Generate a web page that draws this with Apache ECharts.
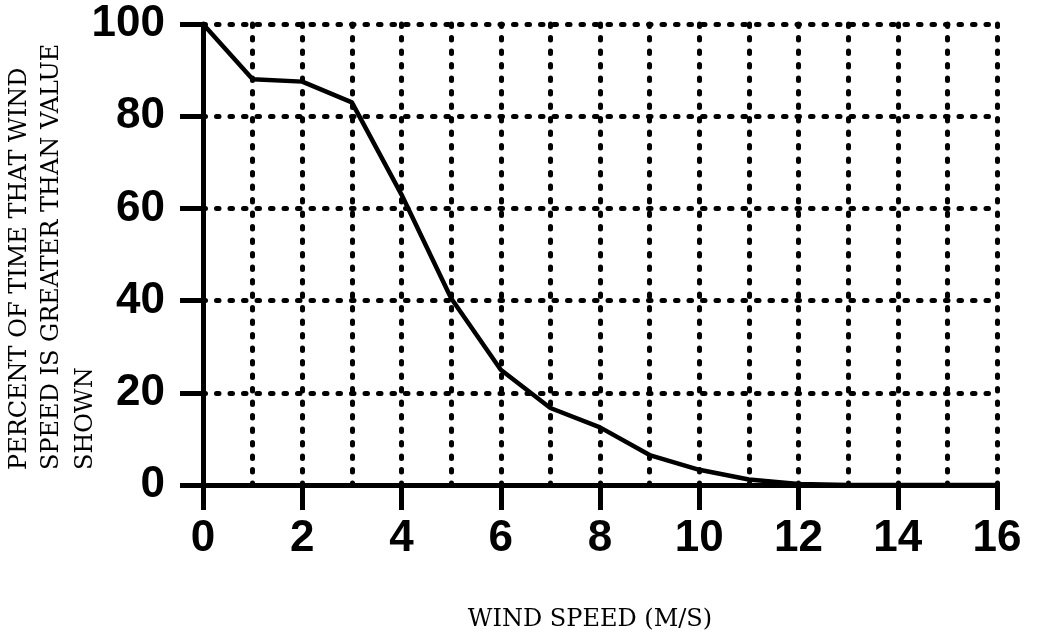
<!DOCTYPE html>
<html>
<head>
<meta charset="utf-8">
<script src="https://cdn.jsdelivr.net/npm/echarts@6/dist/echarts.min.js"></script>
<style>
  html, body { margin: 0; padding: 0; background: #ffffff; }
  #chart { width: 1039px; height: 639px; }
</style>
</head>
<body>
<div id="chart"></div>
<script>
// ---- data ----
const windSpeed = [0, 1, 2, 3, 4, 5, 6, 7, 8, 9, 10, 11, 12, 13, 14, 15, 16];
const percentAbove = [100, 88, 87.5, 83, 63, 40.5, 25, 16.7, 12.5, 6.5, 3.3, 1.2, 0.2, 0, 0, 0, 0];
const xTicks = [0, 2, 4, 6, 8, 10, 12, 14, 16];
const yTicks = [0, 20, 40, 60, 80, 100];
const xTitle = 'WIND SPEED (M/S)';
const yTitleLines = ['PERCENT OF TIME THAT WIND', 'SPEED IS GREATER THAN VALUE', 'SHOWN'];

const seriesData = windSpeed.map((x, i) => [x, percentAbove[i]]);

const dotted = { color: '#000', width: 5, type: [2.5, 11], cap: 'round' };
const tickFont = { fontFamily: 'Liberation Sans', fontWeight: 'bold', fontSize: 44, color: '#000' };
const titleFont = '24px "DejaVu Serif", serif';

const chart = echarts.init(document.getElementById('chart'), null, { renderer: 'canvas' });

const yNameX = [20, 52, 86];

chart.setOption({
  backgroundColor: '#ffffff',
  animation: false,
  grid: { left: 203, right: 42, top: 24, bottom: 154, containLabel: false },
  xAxis: {
    type: 'value',
    min: xTicks[0],
    max: xTicks[xTicks.length - 1],
    interval: 2,
    axisLine: { show: true, lineStyle: { color: '#000', width: 5 } },
    axisTick: { show: true, inside: false, length: 25, lineStyle: { color: '#000', width: 5 } },
    axisLabel: Object.assign({ margin: 32 }, tickFont),
    splitLine: { show: true, showMinLine: false, lineStyle: dotted },
    minorTick: { show: false, splitNumber: 2 },
    minorSplitLine: { show: true, lineStyle: dotted }
  },
  yAxis: {
    type: 'value',
    min: yTicks[0],
    max: yTicks[yTicks.length - 1],
    interval: 20,
    axisLine: { show: true, lineStyle: { color: '#000', width: 5 } },
    axisTick: { show: true, inside: false, length: 23, lineStyle: { color: '#000', width: 5 } },
    axisLabel: Object.assign({ margin: 38 }, tickFont),
    splitLine: { show: true, showMinLine: false, lineStyle: dotted }
  },
  graphic: [
    {
      type: 'text', x: 590, y: 620,
      style: { text: xTitle, font: titleFont, fill: '#000',
               align: 'center', verticalAlign: 'middle', textAlign: 'center', textVerticalAlign: 'middle' }
    }
  ].concat(yTitleLines.map((t, i) => ({
      type: 'text', x: yNameX[i], y: 470, rotation: Math.PI / 2,
      style: { text: t, font: titleFont, fill: '#000',
               align: 'left', verticalAlign: 'middle', textAlign: 'left', textVerticalAlign: 'middle' }
  }))),
  series: [{
    type: 'line',
    data: seriesData,
    showSymbol: false,
    symbol: 'none',
    smooth: false,
    lineStyle: { color: '#000', width: 4.5 },
    z: 5
  }]
});
</script>
</body>
</html>
